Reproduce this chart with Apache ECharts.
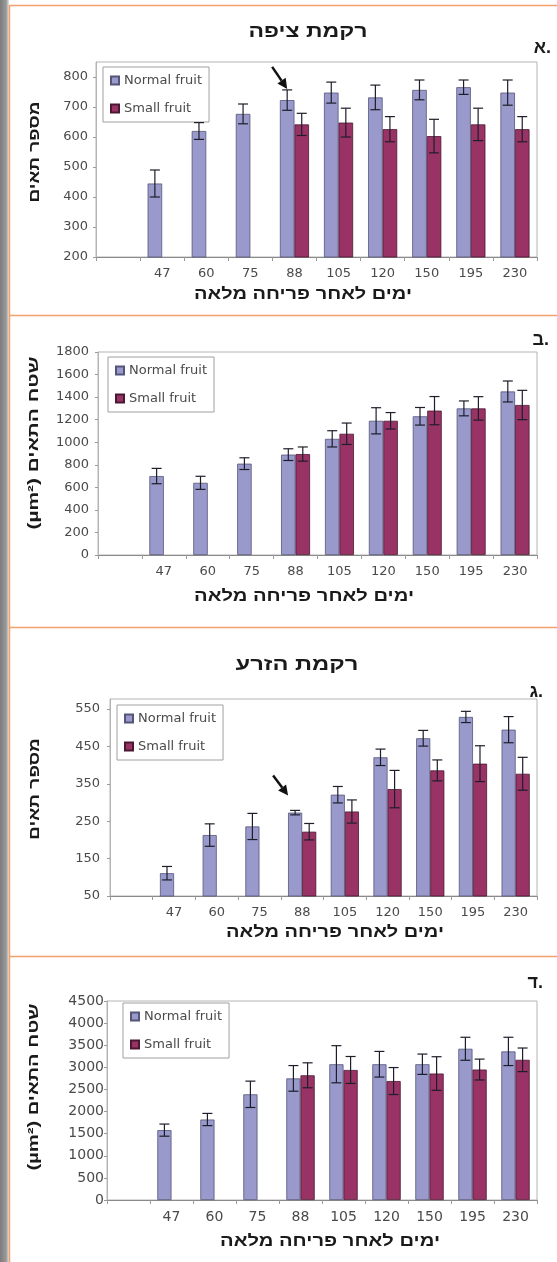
<!DOCTYPE html>
<html>
<head>
<meta charset="utf-8">
<script src="https://cdn.jsdelivr.net/npm/echarts@6/dist/echarts.min.js"></script>
<style>
  html, body { margin: 0; padding: 0; background: #ffffff; }
  #chart { width: 557px; height: 1262px; }
</style>
</head>
<body>
<div id="chart"></div>
<script>
// Days after full bloom (x categories)
const days = ['47', '60', '75', '88', '105', '120', '150', '195', '230'];
const seriesNames = ['Normal fruit', 'Small fruit'];

// A. pericarp tissue - number of cells
const pulpCountNormal = [445, 620, 677, 723, 748, 732, 757, 766, 748];
const pulpCountNormalErr = [45, 28, 33, 34, 35, 41, 33, 24, 42];
const pulpCountSmall = [null, null, null, 642, 648, 626, 603, 642, 626];
const pulpCountSmallErr = [null, null, null, 37, 48, 42, 56, 54, 42];

// B. pericarp tissue - cell area (µm²)
const pulpAreaNormal = [700, 640, 810, 890, 1030, 1190, 1230, 1300, 1450];
const pulpAreaNormalErr = [68, 58, 52, 52, 72, 116, 78, 66, 93];
const pulpAreaSmall = [null, null, null, 895, 1075, 1190, 1280, 1300, 1330];
const pulpAreaSmallErr = [null, null, null, 63, 95, 73, 125, 104, 130];

// C. seed tissue - number of cells
const seedCountNormal = [111, 213, 236, 273, 321, 421, 472, 529, 495];
const seedCountNormalErr = [18, 30, 35, 6, 22, 22, 21, 15, 35];
const seedCountSmall = [null, null, null, 222, 276, 336, 386, 404, 377];
const seedCountSmallErr = [null, null, null, 22, 31, 50, 28, 48, 44];

// D. seed tissue - cell area (µm²)
const seedAreaNormal = [1580, 1820, 2390, 2750, 3070, 3070, 3070, 3420, 3360];
const seedAreaNormalErr = [137, 138, 298, 290, 420, 290, 230, 260, 320];
const seedAreaSmall = [null, null, null, 2820, 2940, 2690, 2860, 2950, 3170];
const seedAreaSmallErr = [null, null, null, 282, 305, 305, 380, 236, 267];

// y-axis tick labels for the seed cell-count panel
const seedCountTicks = [50, 150, 250, 350, 450, 550];

const TICK_FONT = 'DejaVu Sans, Verdana, sans-serif';
const HEB_FONT = 'Liberation Sans, DejaVu Sans, Arial, sans-serif';
const COLORS = ['#9999cc', '#993366'];
const LABEL_COLOR = '#4a4a4a';
const BAR_FRAC = 0.33;

// leading empty slot on the category axis
const categories = [''].concat(days);

const panels = [
  { normal: pulpCountNormal, nErr: pulpCountNormalErr, small: pulpCountSmall, sErr: pulpCountSmallErr,
    grid: { left: 96, right: 20, top: 62, height: 195 },
    y: { min: 200, max: 850, interval: 100 }, labelSize: 13, yMargin: 8,
    legend: { left: 103, top: 67 } },
  { normal: pulpAreaNormal, nErr: pulpAreaNormalErr, small: pulpAreaSmall, sErr: pulpAreaSmallErr,
    grid: { left: 98, right: 20, top: 352, height: 203 },
    y: { min: 0, max: 1800, interval: 200 }, labelSize: 13, yMargin: 9,
    legend: { left: 108, top: 357 } },
  { normal: seedCountNormal, nErr: seedCountNormalErr, small: seedCountSmall, sErr: seedCountSmallErr,
    grid: { left: 110, right: 20, top: 699, height: 197 },
    y: { min: 50, max: 577, custom: seedCountTicks }, labelSize: 13, yMargin: 10,
    legend: { left: 117, top: 705 } },
  { normal: seedAreaNormal, nErr: seedAreaNormalErr, small: seedAreaSmall, sErr: seedAreaSmallErr,
    grid: { left: 107, right: 20, top: 1001, height: 199 },
    y: { min: 0, max: 4500, interval: 500 }, labelSize: 14, yMargin: 3,
    legend: { left: 123, top: 1003 } }
];

function errorRenderer(side) {
  return function (params, api) {
    const v = api.value(1), e = api.value(2);
    if (v == null || isNaN(v) || e == null || isNaN(e)) return;
    const idx = api.value(0);
    const bw = api.size([1, 0])[0] * BAR_FRAC;
    const cx = api.coord([idx, v])[0] + side * bw / 2;
    const yTop = api.coord([idx, v + e])[1];
    const yBot = api.coord([idx, v - e])[1];
    const half = 5;
    const st = { stroke: '#1e1e2a', lineWidth: 1.2 };
    return {
      type: 'group',
      children: [
        { type: 'line', shape: { x1: cx, y1: yTop, x2: cx, y2: yBot }, style: st },
        { type: 'line', shape: { x1: cx - half, y1: yTop, x2: cx + half, y2: yTop }, style: st },
        { type: 'line', shape: { x1: cx - half, y1: yBot, x2: cx + half, y2: yBot }, style: st }
      ]
    };
  };
}

function errData(values, errs) {
  return values.map((v, i) => [i + 1, v == null ? NaN : v, errs[i] == null ? NaN : errs[i]]);
}

const grids = [], xAxes = [], yAxes = [], series = [], legends = [];
panels.forEach((p, k) => {
  grids.push(Object.assign({ show: true, borderColor: '#b4b4b4', borderWidth: 1, backgroundColor: 'transparent' }, p.grid));
  xAxes.push({
    type: 'category', gridIndex: k, data: categories,
    axisLine: { lineStyle: { color: '#8a8a8a', width: 1 } },
    axisTick: { show: true, length: 4, lineStyle: { color: '#9a9a9a' } },
    axisLabel: { fontFamily: TICK_FONT, fontSize: p.labelSize, color: LABEL_COLOR, margin: 10 }
  });
  const y = {
    type: 'value', gridIndex: k, min: p.y.min, max: p.y.max,
    axisLine: { show: true, lineStyle: { color: '#b4b4b4' } },
    axisTick: { show: true, length: 3, lineStyle: { color: '#9a9a9a' } },
    splitLine: { show: false },
    axisLabel: { fontFamily: TICK_FONT, fontSize: p.labelSize, color: LABEL_COLOR, margin: p.yMargin,
                 formatter: v => String(v) }
  };
  if (p.y.custom) {
    y.axisLabel.customValues = p.y.custom;
    y.axisTick.customValues = p.y.custom;
  } else {
    y.interval = p.y.interval;
    y.axisLabel.showMaxLabel = p.y.max % p.y.interval === 0;
  }
  yAxes.push(y);

  const valueSets = [[p.normal, p.nErr], [p.small, p.sErr]];
  valueSets.forEach(([vals, errs], s) => {
    series.push({
      type: 'bar', name: seriesNames[s], xAxisIndex: k, yAxisIndex: k,
      data: [null].concat(vals),
      barWidth: (BAR_FRAC * 100) + '%', barGap: '0%',
      itemStyle: { color: COLORS[s], borderColor: s === 0 ? '#55557a' : '#4a1830', borderWidth: 0.8 },
      animation: false
    });
  });
  valueSets.forEach(([vals, errs], s) => {
    series.push({
      type: 'custom', name: seriesNames[s] + ' error', xAxisIndex: k, yAxisIndex: k,
      renderItem: errorRenderer(s === 0 ? -1 : 1),
      data: errData(vals, errs), encode: { x: 0, y: 1 }, z: 5, silent: true, animation: false
    });
  });

  legends.push({
    data: seriesNames, orient: 'vertical', left: p.legend.left, top: p.legend.top,
    backgroundColor: '#ffffff', borderColor: '#a0a0a0', borderWidth: 1,
    padding: [7, 7], itemGap: 15, itemWidth: 8, itemHeight: 8, icon: 'rect',
    textStyle: { fontFamily: TICK_FONT, fontSize: 13, color: LABEL_COLOR },
    selectedMode: false
  });
});

// Hebrew captions are set in a wide bold face: measure, then stretch to the given span
const measureCtx = document.createElement('canvas').getContext('2d');
function heb(id, text, x, y, size, span, rotation, align) {
  const font = 'bold ' + size + 'px ' + HEB_FONT;
  measureCtx.font = font;
  const w = measureCtx.measureText(text).width;
  const sx = span ? span / w : 1;
  return {
    type: 'text', id: id, x: x, y: y, z: 20, rotation: rotation || 0, scaleX: sx,
    style: { text: text, font: font, fill: '#1a1a1a', align: align || 'center', verticalAlign: 'middle' }
  };
}
// panel letter followed by a period, kept in left-to-right order
function letter(id, ch, xRight, y) {
  return heb(id, '\u202D' + ch + '.\u202C', xRight, y, 18, 0, 0, 'right');
}

const orange = '#f2a06c';
const frame = [
  { type: 'rect', id: 'shade', shape: { x: 0, y: 0, width: 9, height: 1262 }, z: 1,
    style: { fill: new echarts.graphic.LinearGradient(0, 0, 1, 0, [
      { offset: 0, color: '#7c7c7c' }, { offset: 0.7, color: '#9a9a9a' }, { offset: 1, color: '#e6e6e6' }]) } },
  { type: 'line', id: 'vline', shape: { x1: 9.5, y1: 5, x2: 9.5, y2: 1262 }, style: { stroke: orange, lineWidth: 1.5 }, z: 2 },
  { type: 'line', id: 'h1', shape: { x1: 9, y1: 5.5, x2: 557, y2: 5.5 }, style: { stroke: orange, lineWidth: 1.5 }, z: 2 },
  { type: 'line', id: 'h2', shape: { x1: 9, y1: 315.5, x2: 557, y2: 315.5 }, style: { stroke: orange, lineWidth: 1.5 }, z: 2 },
  { type: 'line', id: 'h3', shape: { x1: 9, y1: 627.5, x2: 557, y2: 627.5 }, style: { stroke: orange, lineWidth: 1.5 }, z: 2 },
  { type: 'line', id: 'h4', shape: { x1: 9, y1: 956.5, x2: 557, y2: 956.5 }, style: { stroke: orange, lineWidth: 1.5 }, z: 2 }
];

const xTitle = 'ימים לאחר פריחה מלאה';
const countTitle = 'מספר תאים';
const areaTitle = '(µm²) שטח התאים';
const V = Math.PI / 2;
const texts = [
  heb('tA', 'רקמת ציפה', 308, 32, 18, 119),
  letter('lA', 'א', 551, 48),
  heb('xA', xTitle, 303, 295, 16, 218),
  heb('yA', countTitle, 35, 152, 15, 101, V),

  letter('lB', 'ב', 549, 340),
  heb('xB', xTitle, 304, 597, 16, 220),
  heb('yB', areaTitle, 34, 443, 15, 173, V),

  heb('tC', 'רקמת הזרע', 297, 665, 18, 123),
  letter('lC', 'ג', 543, 692),
  heb('xC', xTitle, 335, 933, 16, 218),
  heb('yC', countTitle, 35, 789, 15, 102, V),

  letter('lD', 'ד', 543, 983),
  heb('xD', xTitle, 330, 1242, 16, 220),
  heb('yD', areaTitle, 34, 1087, 15, 167, V)
];

const chart = echarts.init(document.getElementById('chart'), null, { renderer: 'canvas' });
chart.setOption({
  animation: false,
  backgroundColor: '#ffffff',
  grid: grids, xAxis: xAxes, yAxis: yAxes, legend: legends, series: series,
  graphic: { elements: frame.concat(texts) }
});

// Arrows pointing at the 88-day normal-fruit bar in panels A and C
function arrow(id, tip, dx, dy) {
  const tail = [tip[0] + dx, tip[1] + dy];
  const len = Math.hypot(dx, dy);
  const ux = -dx / len, uy = -dy / len;
  const headLen = 10, headW = 5;
  const base = [tip[0] - ux * headLen, tip[1] - uy * headLen];
  const px = -uy, py = ux;
  return [
    { type: 'line', id: id + 's', z: 15, shape: { x1: tail[0], y1: tail[1], x2: base[0], y2: base[1] },
      style: { stroke: '#111', lineWidth: 2.5 } },
    { type: 'polygon', id: id + 'h', z: 15,
      shape: { points: [tip, [base[0] + px * headW, base[1] + py * headW], [base[0] - px * headW, base[1] - py * headW]] },
      style: { fill: '#111' } }
  ];
}
function markerTip(k, vals, errs, ox, oy) {
  const i = days.indexOf('88');
  const pt = chart.convertToPixel({ gridIndex: k }, [i + 1, vals[i] + errs[i]]);
  const catW = chart.convertToPixel({ gridIndex: k }, [2, 0])[0] - chart.convertToPixel({ gridIndex: k }, [1, 0])[0];
  return [pt[0] - catW * BAR_FRAC / 2 + ox, pt[1] + oy];
}
const tipA = markerTip(0, pulpCountNormal, pulpCountNormalErr, 0, -1);
const tipC = markerTip(2, seedCountNormal, seedCountNormalErr, -7, -15);
chart.setOption({
  graphic: { elements: arrow('arA', tipA, -15, -22).concat(arrow('arC', tipC, -15, -20)) }
});
</script>
</body>
</html>
